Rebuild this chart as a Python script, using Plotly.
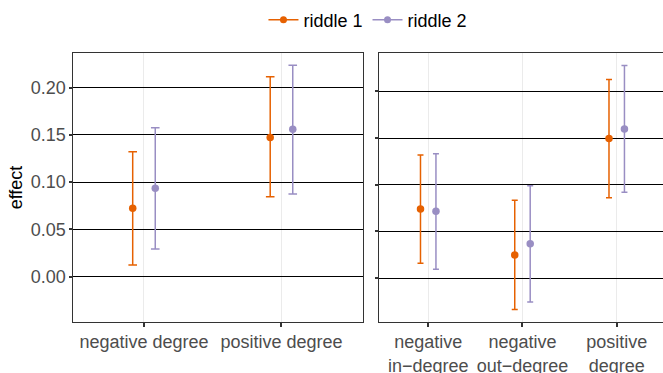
import plotly.graph_objects as go

# ---- data ----
series = ["riddle 1", "riddle 2"]
colors = ["#E66101", "#998EC3"]

left_cats = ["negative degree", "positive degree"]
left_est = [[0.0723, 0.1473], [0.0934, 0.1558]]
left_lo = [[0.0124, 0.0846], [0.0293, 0.0874]]
left_hi = [[0.1321, 0.2114], [0.1575, 0.2235]]

right_cats = ["negative<br>in\u2212degree", "negative<br>out\u2212degree", "positive<br>degree"]
right_est = [[0.0741, 0.0249, 0.1497], [0.0717, 0.0367, 0.1597]]
right_lo = [[0.0160, -0.0336, 0.0862], [0.0096, -0.0257, 0.0920]]
right_hi = [[0.1319, 0.0834, 0.2128], [0.1333, 0.0990, 0.2278]]

y_ticks = [0.0, 0.05, 0.10, 0.15, 0.20]
y_ticktext = ["0.00", "0.05", "0.10", "0.15", "0.20"]

dodge = [-0.082, 0.082]

fig = go.Figure()

def add_panel(cats, est, lo, hi, xa, ya, capw):
    for s in range(len(series)):
        xs = [i + dodge[s] for i in range(len(cats))]
        fig.add_trace(go.Scatter(
            x=xs, y=est[s], mode="markers",
            marker=dict(color=colors[s], size=7.5),
            error_y=dict(type="data", symmetric=False,
                         array=[h - e for h, e in zip(hi[s], est[s])],
                         arrayminus=[e - l for e, l in zip(est[s], lo[s])],
                         color=colors[s], thickness=1.5, width=capw),
            xaxis=xa, yaxis=ya, showlegend=False, hoverinfo="skip"))

add_panel(left_cats, left_est, left_lo, left_hi, "x", "y", 4.3)
add_panel(right_cats, right_est, right_lo, right_hi, "x2", "y2", 3)

for s in range(len(series)):
    fig.add_trace(go.Scatter(x=[None], y=[None], mode="lines+markers", name=series[s],
                             line=dict(color=colors[s], width=1.5),
                             marker=dict(color=colors[s], size=7)))

axis_font = dict(family="Liberation Sans, Arial, sans-serif", size=18, color="#4D4D4D")
W, H = 663, 373
ydom = [1 - 321.7 / H, 1 - 53.3 / H]

common_x = dict(showgrid=True, gridcolor="#EBEBEB", gridwidth=1, zeroline=False,
                showline=True, linecolor="#333333", linewidth=1, mirror=True,
                ticks="outside", ticklen=4, tickcolor="#333333", tickwidth=1.5,
                tickfont=axis_font, automargin=False)
common_y = dict(showgrid=True, gridcolor="black", gridwidth=1, zeroline=False,
                showline=True, linecolor="#333333", linewidth=1,
                ticks="outside", ticklen=3, tickcolor="#333333", tickwidth=1.5,
                tickvals=y_ticks, tickfont=axis_font, domain=ydom, automargin=False)

fig.update_layout(
    width=W, height=H,
    margin=dict(l=0, r=0, t=0, b=0),
    paper_bgcolor="white", plot_bgcolor="white",
    font=dict(family="Liberation Sans, Arial, sans-serif", size=18, color="black"),
    xaxis=dict(common_x, domain=[73.3 / W, 363.3 / W], range=[-0.514, 1.595],
               tickvals=list(range(len(left_cats))), ticktext=left_cats),
    yaxis=dict(common_y, mirror=True, range=[-0.0476, 0.2362], ticktext=y_ticktext,
               title=dict(text="effect", font=dict(size=18, color="black"), standoff=3)),
    xaxis2=dict(common_x, domain=[379.3 / W, 1.0], range=[-0.519, 2.491],
                tickvals=list(range(len(right_cats))), ticktext=right_cats),
    yaxis2=dict(common_y, anchor="x2", range=[-0.0467, 0.2409],
                ticktext=["" for _ in y_ticks], showticklabels=False),
    legend=dict(orientation="h", x=0.555, xanchor="center", y=1 - 20 / H, yanchor="middle",
                font=dict(size=18, color="black"), itemwidth=30, tracegroupgap=0),
)

fig.write_html("out.html")
